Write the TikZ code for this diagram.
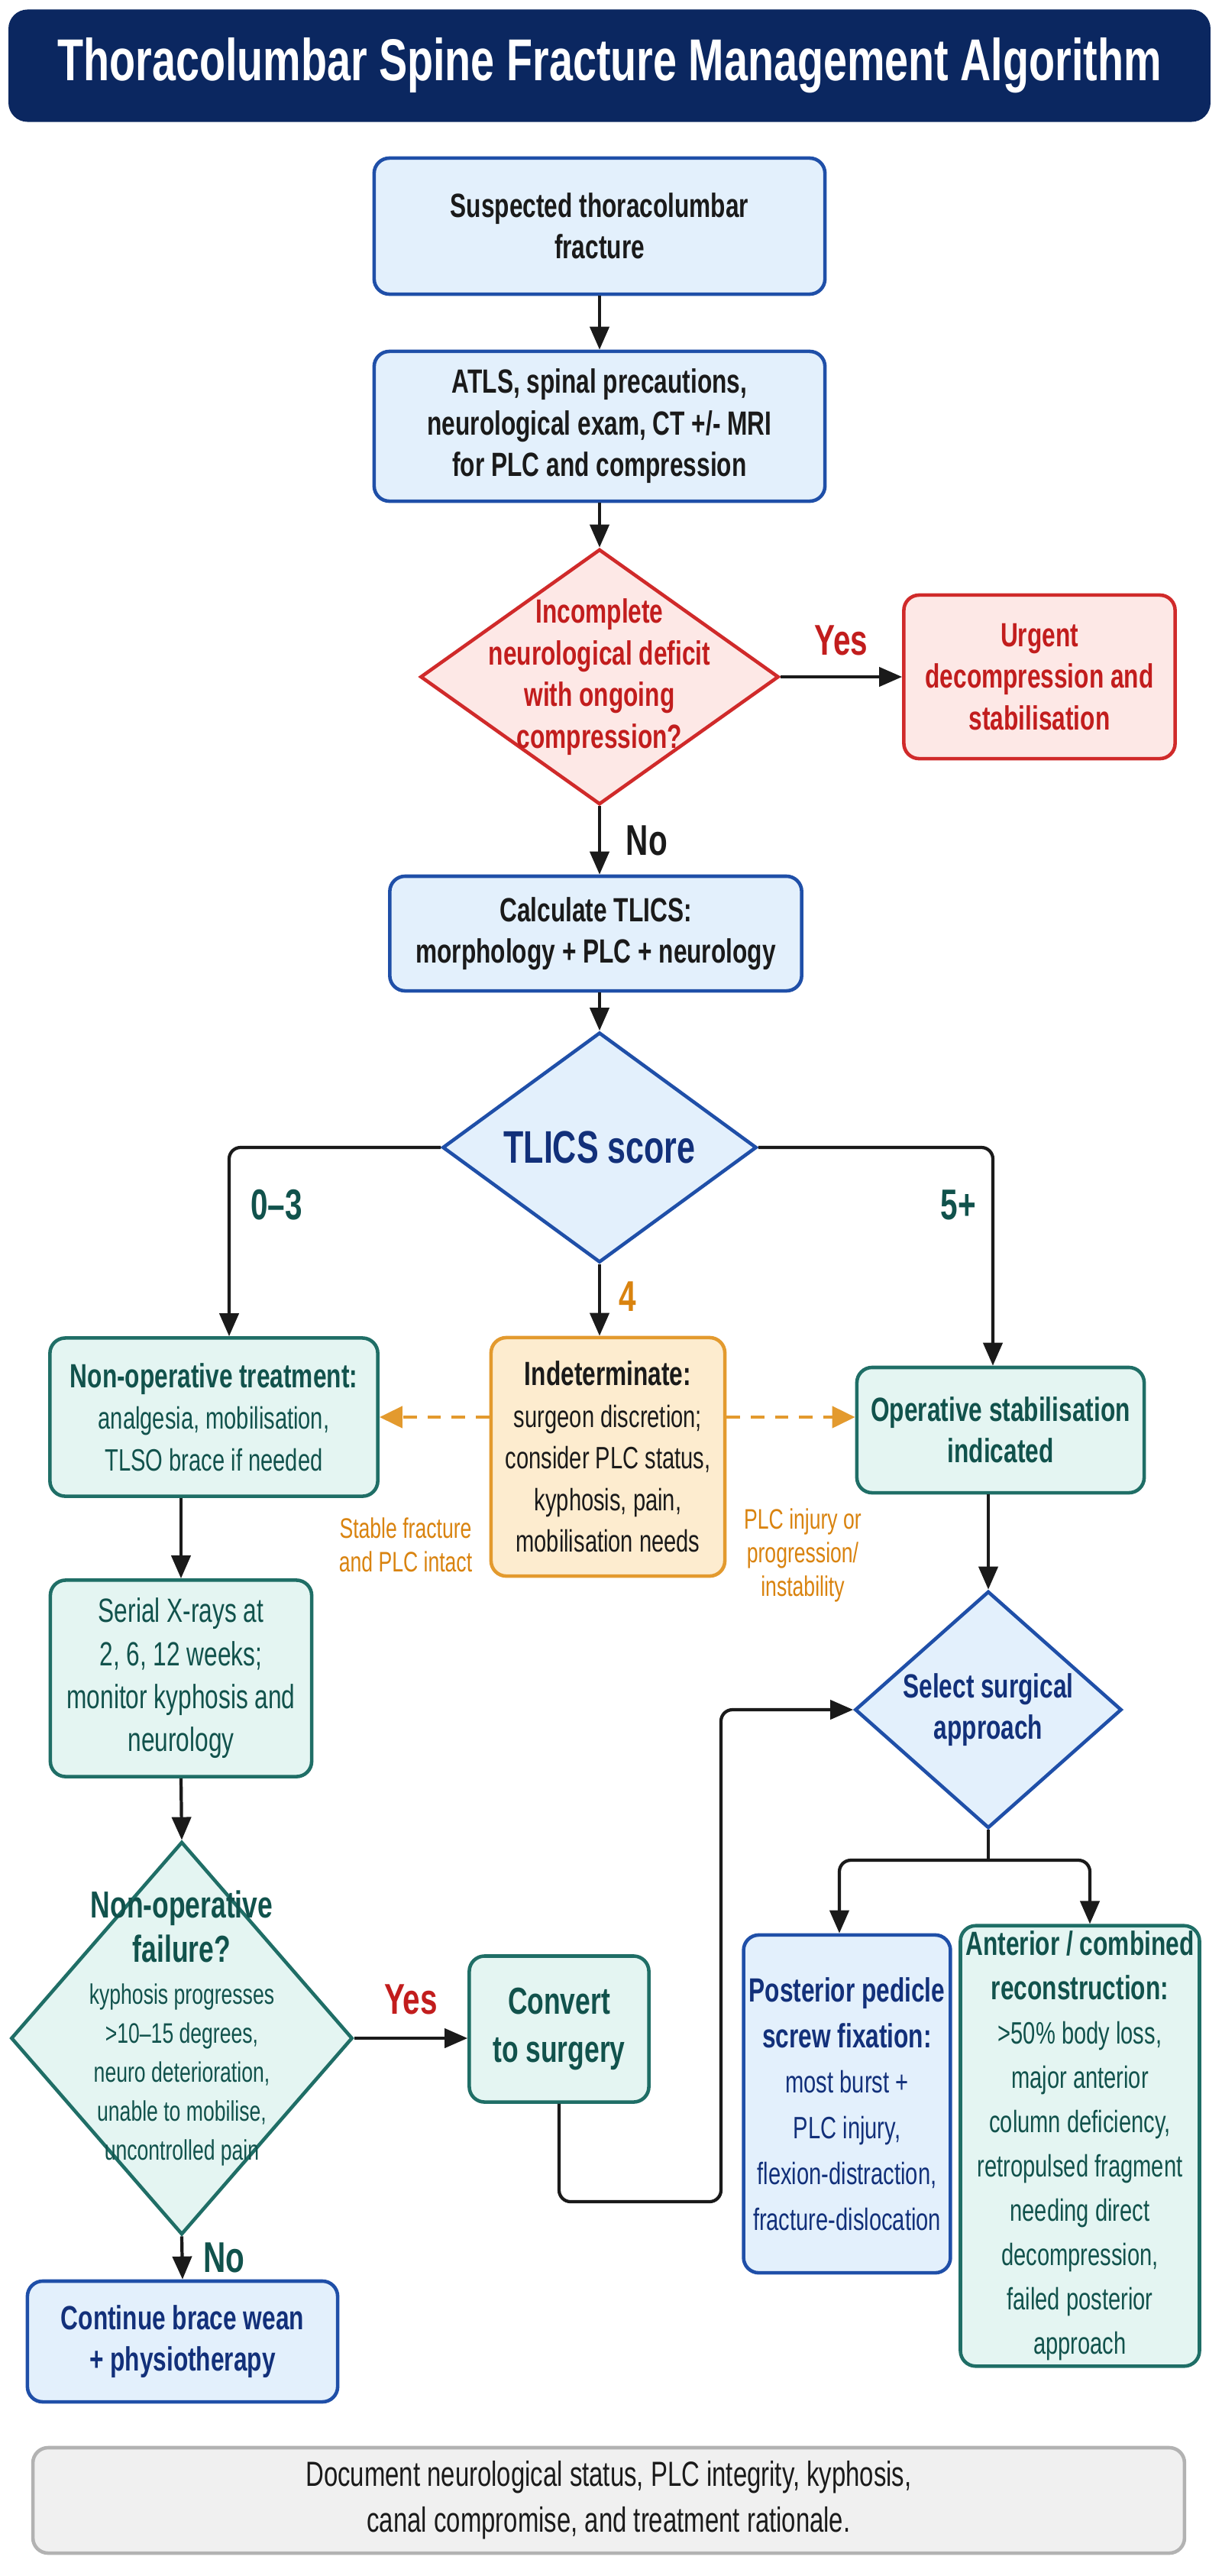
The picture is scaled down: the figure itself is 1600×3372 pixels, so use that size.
\documentclass[tikz,border=0pt]{standalone}
\usepackage{fontspec}
\setmainfont[FakeStretch=0.72]{Liberation Sans}
\usetikzlibrary{positioning, shapes.geometric, arrows.meta}

\definecolor{navy}{HTML}{0B2760}
\definecolor{bluedraw}{HTML}{1F4FA8}
\definecolor{bluefill}{HTML}{E3F0FC}
\definecolor{blueText}{HTML}{12307A}
\definecolor{tealdraw}{HTML}{1F6E66}
\definecolor{tealfill}{HTML}{E4F5F2}
\definecolor{tealText}{HTML}{11524C}
\definecolor{reddraw}{HTML}{D02A2A}
\definecolor{redfill}{HTML}{FDE8E6}
\definecolor{redText}{HTML}{C21D1D}
\definecolor{orangedraw}{HTML}{E39A2E}
\definecolor{orangefill}{HTML}{FDECCF}
\definecolor{orangeText}{HTML}{D9830F}
\definecolor{inkText}{HTML}{1A1A1A}

\tikzset{
  basebox/.style={rectangle, rounded corners=0.2cm, line width=1.3pt, align=center,
    font=\fontsize{12.5}{15.5}\selectfont\bfseries, inner sep=2pt},
  bluebox/.style={basebox, draw=bluedraw, fill=bluefill, text=inkText},
  navybox/.style={basebox, draw=bluedraw, fill=bluefill, text=blueText},
  tealbox/.style={basebox, draw=tealdraw, fill=tealfill, text=tealText},
  redbox/.style={basebox, draw=reddraw, fill=redfill, text=redText},
  orangebox/.style={basebox, draw=orangedraw, fill=orangefill, text=inkText},
  decision/.style={diamond, line width=1.3pt, inner sep=0pt},
  diamtext/.style={align=center, font=\fontsize{12.5}{15.5}\selectfont\bfseries},
  flow/.style={line width=1.2pt, draw=inkText, -{Triangle[length=0.3cm, width=0.25cm]}},
  dashflow/.style={line width=1.3pt, draw=orangedraw, dashed, dash pattern=on 5pt off 4pt,
    -{Triangle[length=0.3cm, width=0.28cm]}},
  branch/.style={font=\fontsize{16}{18}\selectfont\bfseries},
  note/.style={font=\fontsize{10.5}{12.5}\selectfont, text=orangeText, align=center}
}
\newcommand{\detail}[1]{{\fontsize{11.5}{14.5}\selectfont\mdseries #1}}
\newcommand{\faildetail}[1]{{\fontsize{10.5}{13}\selectfont\mdseries #1}}

\begin{document}
\begin{tikzpicture}[x=0.01cm, y=-0.01cm]
  \useasboundingbox (0,0) rectangle (1600,3372);
  \fill[white] (0,0) rectangle (1600,3372);

  % title
  \node[rectangle, rounded corners=0.25cm, fill=navy, text=white, minimum width=15.73cm,
    minimum height=1.47cm, font=\fontsize{22}{26}\selectfont\bfseries] (title) at (798,86)
    {Thoracolumbar Spine Fracture Management Algorithm};

  % main column
  \node[bluebox, minimum width=5.9cm, minimum height=1.78cm] (start) at (785,296)
    {Suspected thoracolumbar\\fracture};
  \node[bluebox, minimum width=5.9cm, minimum height=1.96cm] (assess) at (785,558)
    {ATLS, spinal precautions,\\neurological exam, CT +/- MRI\\for PLC and compression};
  \node[decision, draw=reddraw, fill=redfill, minimum width=4.69cm, minimum height=3.34cm]
    (deficit) at (785,886) {};
  \node[diamtext, text=redText] (deficittxt) at (785,886)
    {Incomplete\\neurological deficit\\with ongoing\\compression?};
  \node[redbox, minimum width=3.55cm, minimum height=2.14cm] (urgent) at (1361,886)
    {Urgent\\decompression and\\stabilisation};
  \node[bluebox, minimum width=5.39cm, minimum height=1.5cm] (tlics) at (780,1222)
    {Calculate TLICS:\\morphology + PLC + neurology};
  \node[decision, draw=bluedraw, fill=bluefill, minimum width=4.11cm, minimum height=3.01cm]
    (score) at (785,1502) {};
  \node[diamtext, text=blueText, font=\fontsize{17}{19}\selectfont\bfseries] (scoretxt)
    at (785,1502) {TLICS score};

  % three pathways
  \node[tealbox, minimum width=4.29cm, minimum height=2.07cm] (nonop) at (280,1855)
    {Non-operative treatment:\\\detail{analgesia, mobilisation,}\\\detail{TLSO brace if needed}};
  \node[orangebox, minimum width=3.06cm, minimum height=3.12cm] (indet) at (796,1907)
    {Indeterminate:\\\detail{surgeon discretion;}\\\detail{consider PLC status,}\\\detail{kyphosis, pain,}\\\detail{mobilisation needs}};
  \node[tealbox, minimum width=3.76cm, minimum height=1.64cm] (oper) at (1310,1872)
    {Operative stabilisation\\indicated};
  \node[tealbox, font=\fontsize{12.5}{16}\selectfont, minimum width=3.42cm,
    minimum height=2.57cm] (serial) at (237,2197)
    {Serial X-rays at\\2, 6, 12 weeks;\\monitor kyphosis and\\neurology};
  \node[decision, draw=bluedraw, fill=bluefill, minimum width=3.49cm, minimum height=3.1cm]
    (select) at (1294,2238) {};
  \node[diamtext, text=blueText] (selecttxt) at (1294,2238) {Select surgical\\approach};
  \node[decision, draw=tealdraw, fill=tealfill, minimum width=4.47cm, minimum height=5.14cm]
    (failure) at (238,2668) {};
  \node[diamtext, text=tealText, font=\fontsize{14}{16.5}\selectfont\bfseries] (failuretxt) at (238,2655)
    {Non-operative\\failure?\\[-1pt]\faildetail{kyphosis progresses}\\[-2pt]
     \faildetail{>10--15 degrees,}\\[-2pt]
     \faildetail{neuro deterioration,}\\[-2pt]
     \faildetail{unable to mobilise,}\\[-2pt]
     \faildetail{uncontrolled pain}};
  \node[tealbox, font=\fontsize{14}{18}\selectfont\bfseries, minimum width=2.35cm,
    minimum height=1.91cm] (convert) at (732,2656) {Convert\\to surgery};
  \node[navybox, minimum width=4.06cm, minimum height=1.58cm] (continue) at (239,3065)
    {Continue brace wean\\+ physiotherapy};
  \node[navybox, font=\fontsize{12.5}{17}\selectfont\bfseries, minimum width=2.58cm,
    minimum height=4.42cm] (post) at (1109,2754)
    {Posterior pedicle\\screw fixation:\\\detail{most burst +}\\\detail{PLC injury,}\\\detail{flexion-distraction,}\\\detail{fracture-dislocation}};
  \node[tealbox, font=\fontsize{12.5}{16.5}\selectfont\bfseries, minimum width=2.99cm,
    minimum height=5.52cm] (ant) at (1414,2809)
    {Anterior / combined\\reconstruction:\\\detail{>50\% body loss,}\\\detail{major anterior}\\\detail{column deficiency,}\\\detail{retropulsed fragment}\\\detail{needing direct}\\\detail{decompression,}\\\detail{failed posterior}\\\detail{approach}};

  % footer
  \node[basebox, draw=gray!60, fill=gray!12, text=inkText, font=\fontsize{13}{17}\selectfont,
    minimum width=15.07cm, minimum height=1.38cm] (footer) at (797,3273)
    {Document neurological status, PLC integrity, kyphosis,\\canal compromise, and treatment rationale.};

  \coordinate (bend) at (944,2882);
  \coordinate (split) at (1294,2435);

  % connectors
  \draw[flow] (start) -- (assess);
  \draw[flow] (assess) -- (deficit.north);
  \draw[flow] (deficit.east) -- (urgent.west) node[midway, above=4pt, branch, text=redText] {Yes};
  \draw[flow] (deficit.south) -- (deficit.south |- tlics.north) node[midway, right=6pt, branch, text=inkText] {No};
  \draw[flow] (score.north |- tlics.south) -- (score.north);
  \draw[flow, rounded corners=0.15cm] (score.west) -| ([xshift=0.2cm]nonop.north);
  \draw[flow, rounded corners=0.15cm] (score.east) -| ([xshift=-0.1cm]oper.north);
  \draw[flow] (score.south) -- (score.south |- indet.north);
  \node[branch, text=tealText] (lowlbl) at (362,1577) {0--3};
  \node[branch, text=tealText] (highlbl) at (1255,1577) {5+};
  \node[branch, text=orangeText] (midlbl) at (822,1697) {4};
  \draw[dashflow] (nonop.east -| indet.west) -- (nonop.east);
  \draw[dashflow] (nonop.east -| indet.east) -- (nonop.east -| oper.west);
  \node[note] (stablelbl) at (531,2022) {Stable fracture\\and PLC intact};
  \node[note] (plclbl) at (1051,2036) {PLC injury or\\progression/\\instability};
  \draw[flow] (serial.north |- nonop.south) -- (serial.north);
  \draw[flow] (serial.south) -- (failure.north);
  \draw[flow] (failure.east) -- (failure.east -| convert.west)
    node[midway, above=5pt, branch, text=redText] {Yes};
  \draw[flow] (failure.south) -- (continue.north)
    node[midway, right=4pt, branch, text=tealText] {No};
  \draw[flow] (select.north |- oper.south) -- (select.north);
  \draw[flow, rounded corners=0.15cm] (convert.south) |- (bend) |- (select.west);
  \draw[line width=1.2pt, draw=inkText] (select.south) -- (split);
  \draw[flow, rounded corners=0.15cm] (split) -| ([xshift=-0.1cm]post.north);
  \draw[flow, rounded corners=0.15cm] (split) -| ([xshift=0.13cm]ant.north);
\end{tikzpicture}
\end{document}
